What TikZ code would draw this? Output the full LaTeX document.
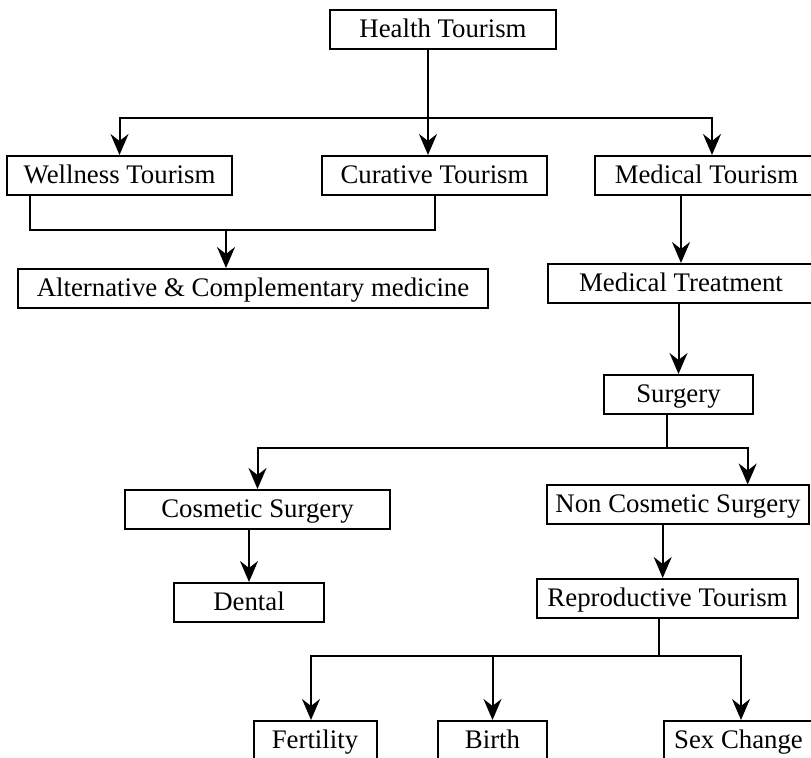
\documentclass[tikz,border=0pt]{standalone}
\usepackage{fontspec}
\setmainfont{Liberation Serif}
\usepackage{tikz}
\usetikzlibrary{arrows.meta}

\tikzset{
	box/.style={draw,line width=1pt,inner sep=0pt,minimum height=19.5pt,
		text height=10.8pt,text depth=2.9pt,
		font=\fontsize{13.4}{16}\selectfont},
	arr/.style={-{Stealth[length=10.5pt,width=9pt,inset=3.5pt]}}
}

\begin{document}
\begin{tikzpicture}[x=0.5pt,y=-0.5pt,line width=1pt]
		\useasboundingbox (0,0) rectangle (811,758);
		
		\node[box,minimum width=113pt] (HT) at (443,29.5) {Health Tourism};
		
		\node[box,minimum width=112.5pt] (WT) at (119.5,175.5) {Wellness Tourism};
		\node[box,minimum width=112.5pt] (CT) at (434.5,175.5) {Curative Tourism};
		\node[box,minimum width=111.5pt] (MT) at (706.5,175.5) {Medical Tourism};
		
		\node[box,minimum width=234.75pt] (ACM) at (253,288.5) {Alternative \& Complementary medicine};
		\node[box,minimum width=133pt] (MTr) at (681,283.5) {Medical Treatment};
		
		\node[box,minimum width=74.5pt] (Sg) at (678.5,394.5) {Surgery};
		
		\node[box,minimum width=132.5pt] (CS) at (257.5,509.5) {Cosmetic Surgery};
		\node[box,minimum width=131pt] (NCS) at (678,505) {Non Cosmetic Surgery};
		
		\node[box,minimum width=75pt] (Dn) at (249,602.5) {Dental};
		\node[box,minimum width=130.5pt] (RT) at (667.5,598.5) {Reproductive Tourism};
		
		\node[box,minimum width=61.5pt] (Fe) at (315,740.5) {Fertility};
		\node[box,minimum width=54.5pt] (Bi) at (492.5,740.5) {Birth};
		\node[box,minimum width=74.5pt] (SC) at (738.5,740.5) {Sex Change};
		
		% junctions
		\coordinate (j1) at (428,118);
		\coordinate (j2) at (226,230);
		\coordinate (j3) at (667,448);
		\coordinate (j4) at (662.7,550);
		\coordinate (j5) at (659,656);
		
		% health tourism
		\draw (HT.south -| j1) -- (j1);
		\draw[arr] (j1) -- (j1 |- CT.north);
		\draw[arr] (j1) -| (WT.north);
		\draw[arr] (j1) -| ([xshift=2.75pt]MT.north);
		
		% wellness + curative
		\draw ([xshift=-45pt]WT.south) |- (CT.south |- j2) -- (CT.south);
		\draw[arr] (j2) -- (j2 |- ACM.north);
		
		% medical
		\draw[arr] (MTr.north |- MT.south) -- (MTr.north);
		\draw[arr] (Sg.north |- MTr.south) -- (Sg.north);
		
		% surgery
		\draw (Sg.south -| j3) -- (j3);
		\draw[arr] (j3) -| (CS.north);
		\draw[arr] (j3) -| ([xshift=34.85pt]NCS.north);
		\draw[arr] (Dn.north |- CS.south) -- (Dn.north);
		\draw[arr] (j4 |- NCS.south) -- (j4 |- RT.north);
		
		% reproductive
		\draw (RT.south -| j5) -- (j5);
		\draw[arr] (j5) -| ([xshift=-2pt]Fe.north);
		\draw[arr] (Bi.north |- j5) -- (Bi.north);
		\draw[arr] (j5) -| ([xshift=1.25pt]SC.north);
		
	\end{tikzpicture}
\end{document}
